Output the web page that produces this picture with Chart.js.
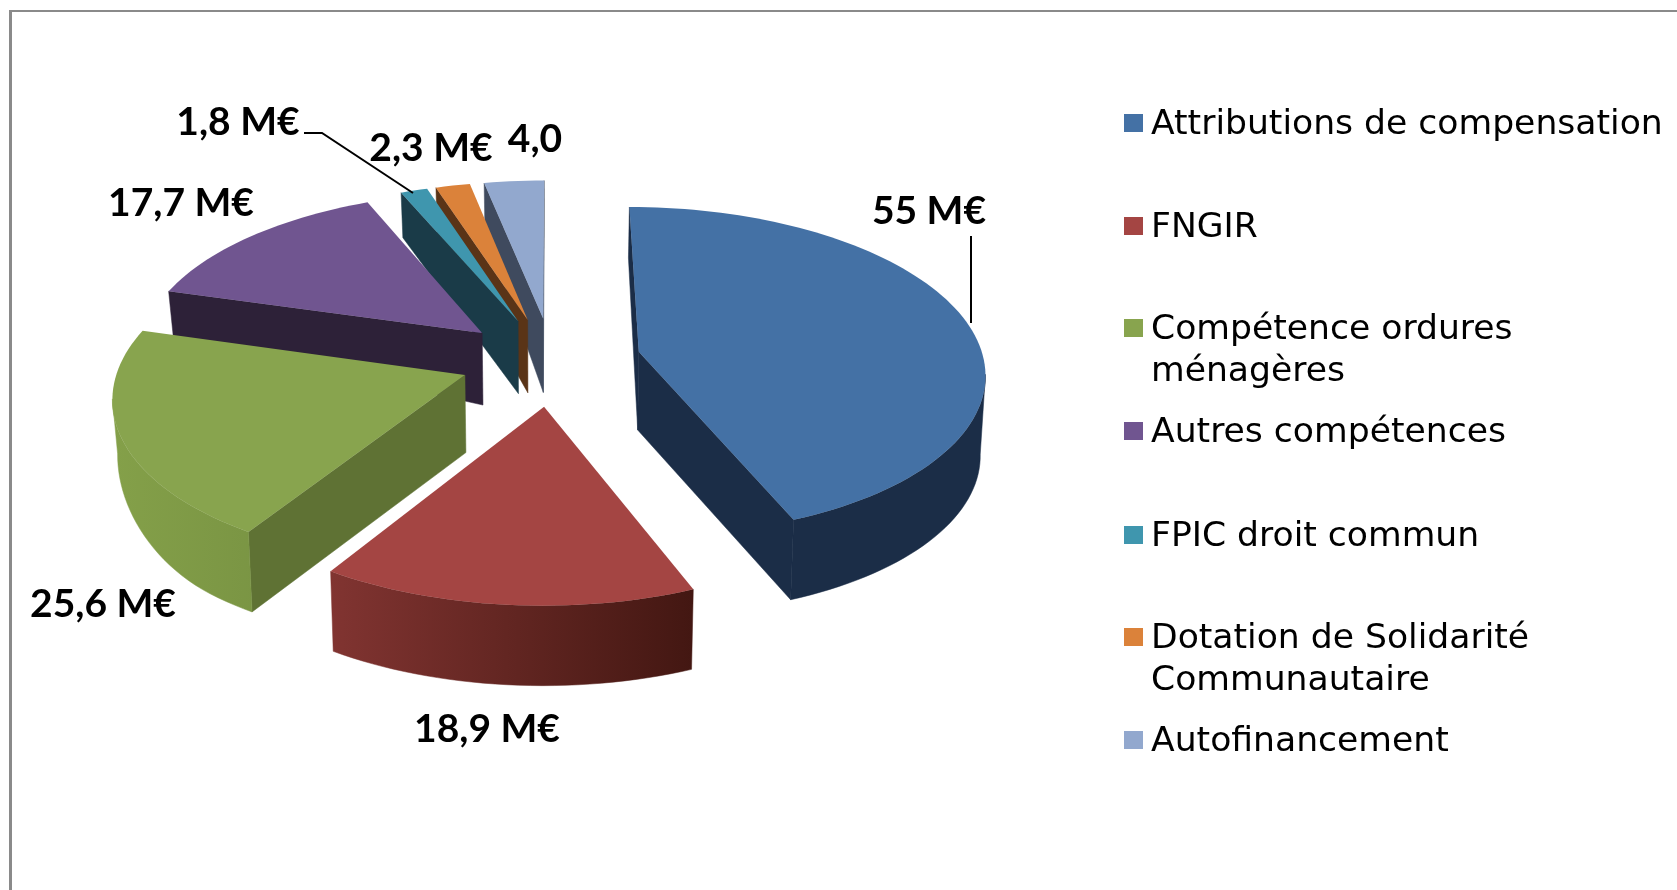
<!DOCTYPE html>
<html>
<head>
<meta charset="utf-8">
<title>Répartition</title>
<script src="https://cdn.jsdelivr.net/npm/chart.js@4"></script>
<style>
  html, body { margin: 0; padding: 0; background: #fff; }
  canvas { display: block; }
</style>
</head>
<body>
<canvas id="pieChart" width="1677" height="890"></canvas>
<script>
// data
const categories = [
    ["Attributions de compensation"],
    ["FNGIR"],
    ["Compétence ordures", "ménagères"],
    ["Autres compétences"],
    ["FPIC droit commun"],
    ["Dotation de Solidarité", "Communautaire"],
    ["Autofinancement"]
];
const values = [55, 18.9, 25.6, 17.7, 1.8, 2.3, 4.0];
const valueLabels = ["55 M€", "18,9 M€", "25,6 M€", "17,7 M€", "1,8 M€", "2,3 M€", "4,0"];

// styles
const topColors = ["#4471A5", "#A44543", "#88A44E", "#705590", "#3F96AE", "#DB823A", "#92A8CE"];
const sideColors = ["#1B2D47", "#5F7234", "#5F7234", "#2D2138", "#1A3B48", "#5A3417", "#3F4A5E"];
const cutColors = ["#1B2D47", "#431712", "#5F7234", "#2D2138", "#1A3B48", "#5A3417", "#3F4A5E"];
const rimGradients = [null, ["#813431", "#431712"], ["#84A049", "#6C853C"], null, null, null, null];
const sliceOffsets = [92, 96, 88, 88, 90, 90, 90];
const sliceShiftX = [0, 4, -1, -2, 0, 1, 3];
const paintOrder = [6, 5, 4, 3, 2, 0, 1];

// label and legend layout
const labelCenters = [[929, 211], [487, 729], [103, 604], [181, 203], [238, 122], [431, 148], [535, 139]];
const legendRows = [123, 226, 328, 431, 535, 637, 740];

// perspective of the pie plane
const SQUASH = 0.474;
const PERSPECTIVE = 0.00034;

function project(arc, u, v) {
    const w = 1 - PERSPECTIVE * v;
    return { x: arc.x + u / w, y: arc.y + SQUASH * v / w };
}

// thickness of the pie changes over the picture
function lower(arc, p) {
    const t = Math.min(1, Math.max(0, (p.y + 0.4 * Math.min(p.x, 540) - 360) / 240));
    const depth = 45 + 35 * t * t * (3 - 2 * t);
    return { x: p.x + (arc.x - p.x) * 0.012, y: p.y + depth };
}

function sliceOutline(arc, index) {
    const mid = (arc.startAngle + arc.endAngle) / 2;
    const ou = Math.cos(mid) * arc.options.offset;
    const ov = Math.sin(mid) * arc.options.offset;
    const points = [project(arc, ou, ov)];
    const steps = Math.max(2, Math.ceil((arc.endAngle - arc.startAngle) / 0.03));
    for (let i = 0; i <= steps; i++) {
        const a = arc.startAngle + (arc.endAngle - arc.startAngle) * i / steps;
        points.push(project(arc, ou + Math.cos(a) * arc.outerRadius, ov + Math.sin(a) * arc.outerRadius));
    }
    points.forEach(p => { p.x += sliceShiftX[index]; });
    return points;
}

function fillPath(ctx, points, fill) {
    ctx.beginPath();
    points.forEach((p, i) => (i ? ctx.lineTo(p.x, p.y) : ctx.moveTo(p.x, p.y)));
    ctx.closePath();
    ctx.fillStyle = fill;
    ctx.fill();
}

function extrude(ctx, arc, run, fill) {
    if (run.length < 2) return;
    fillPath(ctx, run.concat(run.slice().reverse().map(p => lower(arc, p))), fill);
    // hides the seam between cut face and rim
    ctx.strokeStyle = fill;
    ctx.lineWidth = 0.5;
    ctx.stroke();
}

function drawSlice(ctx, arc, index) {
    const points = sliceOutline(arc, index);
    const n = points.length;
    const xs = points.map(p => p.x);

    let rimFill = sideColors[index];
    if (rimGradients[index]) {
        rimFill = ctx.createLinearGradient(Math.min(...xs), 0, Math.max(...xs), 0);
        rimFill.addColorStop(0, rimGradients[index][0]);
        rimFill.addColorStop(1, rimGradients[index][1]);
    }

    // cut faces, only the ones turned to the viewer
    [[points[0], points[1]], [points[n - 1], points[0]]].forEach(edge => {
        if (edge[1].x < edge[0].x) extrude(ctx, arc, edge, cutColors[index]);
    });

    // rim, the run of points going leftwards
    let run = [];
    for (let i = 1; i < n - 1; i++) {
        if (points[i + 1].x < points[i].x) {
            if (!run.length) run.push(points[i]);
            run.push(points[i + 1]);
        } else {
            extrude(ctx, arc, run, rimFill);
            run = [];
        }
    }
    extrude(ctx, arc, run, rimFill);

    fillPath(ctx, points, topColors[index]);
}

const pie3d = {
    id: "pie3d",
    beforeDraw(chart) {
        const ctx = chart.ctx;
        ctx.save();
        ctx.fillStyle = "#fff";
        ctx.fillRect(0, 0, chart.width, chart.height);
        ctx.fillStyle = "#8A8A8A";
        ctx.fillRect(9, 10, chart.width - 9, 2);
        ctx.fillRect(9, 10, 3, chart.height - 10);
        ctx.restore();
    },
    // slices are painted here with the angles computed by the controller
    beforeDatasetDraw(chart, args) {
        const ctx = chart.ctx;
        const arcs = chart.getDatasetMeta(args.index).data;
        ctx.save();
        paintOrder.forEach(i => drawSlice(ctx, arcs[i], i));
        ctx.restore();
        return false;
    },
    afterDraw(chart) {
        const ctx = chart.ctx;
        ctx.save();

        // leader lines
        ctx.strokeStyle = "#000";
        ctx.lineWidth = 2;
        ctx.beginPath();
        ctx.moveTo(971, 236);
        ctx.lineTo(971, 323);
        ctx.moveTo(304, 133);
        ctx.lineTo(322, 133);
        ctx.lineTo(413, 193);
        ctx.stroke();

        // value labels
        ctx.fillStyle = "#000";
        ctx.font = "bold 39px Lato";
        ctx.textAlign = "center";
        ctx.textBaseline = "middle";
        valueLabels.forEach((text, i) => {
            ctx.fillText(text, labelCenters[i][0], labelCenters[i][1]);
        });

        // legend
        ctx.font = "34.6px 'DejaVu Sans'";
        ctx.textAlign = "left";
        categories.forEach((lines, i) => {
            ctx.fillStyle = topColors[i];
            ctx.fillRect(1124, legendRows[i] - 9, 19, 18);
            ctx.fillStyle = "#000";
            lines.forEach((line, j) => {
                ctx.fillText(line, 1151, legendRows[i] + 2 + j * 42);
            });
        });
        ctx.restore();
    }
};

new Chart(document.getElementById("pieChart").getContext("2d"), {
    type: "pie",
    data: {
        labels: categories,
        datasets: [{
            data: values,
            backgroundColor: topColors,
            offset: sliceOffsets,
            borderWidth: 0
        }]
    },
    options: {
        responsive: false,
        animation: false,
        radius: 345,
        layout: { padding: { left: 0, top: 0, right: 579, bottom: 170 } },
        plugins: {
            legend: { display: false },
            tooltip: { enabled: false }
        }
    },
    plugins: [pie3d]
});
</script>
</body>
</html>
